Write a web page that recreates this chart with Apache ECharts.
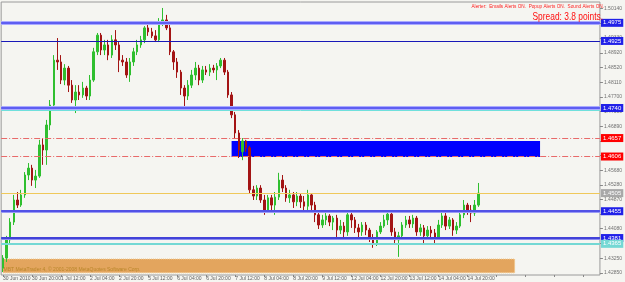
<!DOCTYPE html>
<html><head><meta charset="utf-8">
<script src="https://cdn.jsdelivr.net/npm/echarts@6/dist/echarts.min.js"></script>
<style>html,body{margin:0;padding:0;background:#f5f5f1}#c{width:625px;height:282px}</style>
</head><body><div id="c"></div>
<script>
// time labels (one every 8 bars)
const xLabels = ['30 Jun 2010','30 Jun 20:00','1 Jul 12:00','2 Jul 04:00','2 Jul 20:00','5 Jul 12:00','6 Jul 04:00','6 Jul 20:00','7 Jul 12:00','8 Jul 04:00','8 Jul 20:00','9 Jul 12:00','12 Jul 04:00','12 Jul 20:00','13 Jul 12:00','14 Jul 04:00','14 Jul 20:00'];
// price scale tick labels
const yTicks = [1.42850,1.43250,1.43660,1.44080,1.44480,1.44870,1.45280,1.45680,1.46090,1.46490,1.46890,1.47300,1.47700,1.48110,1.48520,1.48920,1.49330,1.49730,1.50140];

const opens = [1.4298,1.4326,1.4376,1.4425,1.4486,1.4472,1.4500,1.4555,1.4574,1.4541,
1.4552,1.4638,1.4624,1.4693,1.4748,1.4872,1.4867,1.4817,1.4850,1.4803,
1.4762,1.4784,1.4776,1.4795,1.4773,1.4817,1.4895,1.4941,1.4900,1.4914,
1.4886,1.4928,1.4914,1.4872,1.4867,1.4831,1.4867,1.4895,1.4914,1.4928,
1.4961,1.4950,1.4939,1.4928,1.4977,1.4983,1.4961,1.4895,1.4867,1.4839,
1.4795,1.4773,1.4803,1.4831,1.4850,1.4817,1.4845,1.4839,1.4850,1.4845,
1.4856,1.4872,1.4839,1.4776,1.4721,1.4671,1.4619,1.4649,1.4630,1.4514,
1.4497,1.4519,1.4486,1.4458,1.4492,1.4472,1.4494,1.4541,1.4519,1.4492,
1.4500,1.4481,1.4497,1.4481,1.4469,1.4500,1.4472,1.4445,1.4417,1.4431,
1.4442,1.4425,1.4436,1.4403,1.4414,1.4398,1.4445,1.4431,1.4409,1.4398,
1.4417,1.4403,1.4381,1.4367,1.4398,1.4414,1.4431,1.4447,1.4398,1.4376,
1.4387,1.4417,1.4431,1.4420,1.4436,1.4398,1.4409,1.4387,1.4403,1.4395,
1.4381,1.4417,1.4442,1.4414,1.4431,1.4403,1.4414,1.4445,1.4472,1.4458,
1.4450,1.4472];
const closes = [1.4326,1.4376,1.4425,1.4486,1.4472,1.4500,1.4555,1.4574,1.4541,1.4552,
1.4638,1.4624,1.4693,1.4748,1.4872,1.4867,1.4817,1.4850,1.4803,1.4762,
1.4784,1.4776,1.4795,1.4773,1.4817,1.4895,1.4941,1.4900,1.4914,1.4886,
1.4928,1.4914,1.4872,1.4867,1.4831,1.4867,1.4895,1.4914,1.4928,1.4961,
1.4950,1.4939,1.4928,1.4977,1.4983,1.4961,1.4895,1.4867,1.4839,1.4795,
1.4773,1.4803,1.4831,1.4850,1.4817,1.4845,1.4839,1.4850,1.4845,1.4856,
1.4872,1.4839,1.4776,1.4721,1.4671,1.4624,1.4649,1.4630,1.4514,1.4497,
1.4519,1.4486,1.4458,1.4492,1.4472,1.4494,1.4541,1.4519,1.4492,1.4500,
1.4481,1.4497,1.4481,1.4469,1.4500,1.4472,1.4445,1.4417,1.4431,1.4442,
1.4425,1.4436,1.4403,1.4414,1.4398,1.4445,1.4431,1.4409,1.4398,1.4417,
1.4403,1.4381,1.4367,1.4398,1.4414,1.4431,1.4447,1.4398,1.4376,1.4387,
1.4417,1.4431,1.4420,1.4436,1.4398,1.4409,1.4387,1.4403,1.4395,1.4381,
1.4417,1.4442,1.4414,1.4431,1.4403,1.4414,1.4445,1.4472,1.4458,1.4450,
1.4472,1.4505];
const lows = [1.4287,1.4315,1.4365,1.4417,1.4464,1.4467,1.4492,1.4541,1.4525,1.4519,
1.4547,1.4583,1.4583,1.4679,1.4740,1.4845,1.4806,1.4803,1.4784,1.4754,
1.4726,1.4762,1.4768,1.4762,1.4762,1.4812,1.4886,1.4886,1.4886,1.4872,
1.4878,1.4900,1.4839,1.4856,1.4823,1.4812,1.4856,1.4886,1.4906,1.4919,
1.4939,1.4933,1.4922,1.4922,1.4966,1.4955,1.4886,1.4845,1.4823,1.4776,
1.4737,1.4762,1.4795,1.4817,1.4803,1.4809,1.4831,1.4828,1.4837,1.4817,
1.4850,1.4831,1.4768,1.4712,1.4657,1.4602,1.4596,1.4619,1.4505,1.4486,
1.4486,1.4478,1.4445,1.4450,1.4453,1.4445,1.4486,1.4508,1.4481,1.4478,
1.4464,1.4469,1.4464,1.4453,1.4458,1.4458,1.4425,1.4406,1.4409,1.4417,
1.4414,1.4403,1.4384,1.4392,1.4381,1.4387,1.4409,1.4395,1.4376,1.4387,
1.4389,1.4370,1.4354,1.4359,1.4392,1.4409,1.4417,1.4387,1.4362,1.4329,
1.4381,1.4409,1.4409,1.4409,1.4387,1.4387,1.4362,1.4381,1.4381,1.4367,
1.4376,1.4409,1.4403,1.4406,1.4387,1.4392,1.4409,1.4436,1.4445,1.4425,
1.4442,1.4467];
const highs = [1.4334,1.4387,1.4436,1.4500,1.4508,1.4514,1.4563,1.4588,1.4583,1.4569,
1.4652,1.4657,1.4707,1.4762,1.4886,1.4933,1.4886,1.4861,1.4856,1.4817,
1.4803,1.4803,1.4812,1.4801,1.4831,1.4906,1.4947,1.4947,1.4928,1.4928,
1.4941,1.4955,1.4922,1.4886,1.4878,1.4878,1.4906,1.4928,1.4939,1.4966,
1.4969,1.4961,1.4955,1.4988,1.5016,1.4997,1.4969,1.4900,1.4878,1.4845,
1.4803,1.4817,1.4845,1.4867,1.4859,1.4856,1.4856,1.4861,1.4859,1.4864,
1.4878,1.4878,1.4845,1.4784,1.4729,1.4679,1.4657,1.4652,1.4635,1.4525,
1.4527,1.4527,1.4500,1.4500,1.4500,1.4508,1.4561,1.4555,1.4527,1.4514,
1.4508,1.4508,1.4503,1.4497,1.4514,1.4505,1.4481,1.4453,1.4445,1.4450,
1.4447,1.4442,1.4445,1.4431,1.4425,1.4453,1.4453,1.4439,1.4420,1.4425,
1.4425,1.4409,1.4392,1.4403,1.4425,1.4445,1.4458,1.4453,1.4409,1.4398,
1.4425,1.4442,1.4442,1.4445,1.4442,1.4420,1.4417,1.4414,1.4414,1.4406,
1.4431,1.4453,1.4450,1.4439,1.4436,1.4425,1.4453,1.4486,1.4478,1.4472,
1.4486,1.4533];

// horizontal price levels
const levelTop = 1.4975, levelNavy = 1.4925, levelMid = 1.4740, levelMidCyan = 1.4733;
const redUpper = 1.4657, redLower = 1.4606, bidPrice = 1.4505;
const levelLow1 = 1.4455, levelLow2 = 1.4381, levelCyan = 1.4365;
// zones
const zoneTop = 1.4649, zoneBottom = 1.4605, zoneStart = 63, zoneEnd = 148;
const bandTop = 1.4323, bandBottom = 1.4285, bandStart = 0, bandEnd = 141;

const N = 165;
const slots = Array.from({length: N}, (_, i) => String(i));
const candles = opens.map((o, i) => [o, closes[i], lows[i], highs[i]]);

const FONT = '"Liberation Sans", Arial, sans-serif';
function lbl(bg, fg) {
  return {show: true, position: 'end', distance: 1, formatter: p => Number(p.value).toFixed(4),
    backgroundColor: bg, color: fg || '#ffffff', fontSize: 6, fontFamily: FONT,
    padding: [1, 2, 0, 2], lineHeight: 7};
}
const off = {show: false};

const chart = echarts.init(document.getElementById('c'));
chart.setOption({
  animation: false,
  backgroundColor: '#f5f5f1',
  grid: {left: 1, right: 18, top: 2, bottom: 7, show: true, borderColor: '#9a9a9a', borderWidth: 1, backgroundColor: 'transparent'},
  xAxis: {
    type: 'category', data: slots, boundaryGap: true,
    axisLine: {show: false},
    axisTick: {show: true, length: 2, alignWithLabel: true, interval: (i) => i % 8 === 0, lineStyle: {color: '#888'}},
    axisLabel: {interval: 0, margin: 1, fontSize: 5, lineHeight: 6, color: '#606060', fontFamily: FONT, align: 'left',
      formatter: (v, i) => (i % 8 === 0 && xLabels[i / 8]) ? xLabels[i / 8] : ''},
    splitLine: {show: false}
  },
  yAxis: {
    type: 'value', position: 'right', min: 1.4279, max: 1.50325, scale: true,
    axisLine: {show: false},
    splitLine: {show: false},
    axisTick: {show: true, length: 3, customValues: yTicks, lineStyle: {color: '#888'}},
    axisLabel: {show: true, customValues: yTicks, margin: 4, fontSize: 5, color: '#707070', fontFamily: FONT,
      formatter: v => v.toFixed(5)}
  },
  graphic: [
    {type: 'text', x: 604, y: 6, scaleX: 0.85, z: 100,
      style: {text: 'Alerter:  Emails Alerts ON.  Popup Alerts ON.  Sound Alerts ON.', fill: '#ff2020',
        font: '5.5px ' + FONT, textAlign: 'right', textVerticalAlign: 'middle'}},
    {type: 'text', x: 603, y: 17, scaleX: 0.8, z: 100,
      style: {text: 'Spread: 3.8 points.', fill: '#ff1010', font: '10.5px ' + FONT, textAlign: 'right', textVerticalAlign: 'middle'}}
  ],
  series: [{
    type: 'candlestick',
    data: candles,
    barWidth: 2,
    itemStyle: {color: '#2fbf2f', color0: '#a31414', borderColor: '#2fbf2f', borderColor0: '#a31414', borderWidth: 1},
    markArea: {
      silent: true,
      data: [
        [{xAxis: zoneStart, yAxis: zoneTop, itemStyle: {color: '#0000ff', opacity: 1}}, {xAxis: zoneEnd, yAxis: zoneBottom}],
        [{xAxis: bandStart, yAxis: bandTop, itemStyle: {color: '#e3a55e', opacity: 1, borderColor: '#f2c98a', borderWidth: 1, borderType: 'dotted'},
          label: {show: true, position: 'insideBottomLeft', distance: 1, formatter: 'MBT MetaTrader 4, © 2001-2008 MetaQuotes Software Corp.',
            color: '#b8862a', fontSize: 5, fontFamily: FONT}},
         {xAxis: bandEnd, yAxis: bandBottom}]
      ]
    },
    markLine: {
      silent: true, symbol: ['none', 'none'], animation: false, precision: 5,
      data: [
        {yAxis: levelTop, lineStyle: {color: '#aaaaff', width: 4, type: 'solid'}, label: off},
        {yAxis: levelTop, lineStyle: {color: '#4444ee', width: 1.5, type: 'solid'}, label: lbl('#2020e8')},
        {yAxis: levelNavy, lineStyle: {color: '#1818b8', width: 1.2, type: 'solid'}, label: lbl('#2020e8')},
        {yAxis: levelMidCyan, lineStyle: {color: '#6fe0dc', width: 1, type: 'solid'}, label: off},
        {yAxis: levelMid, lineStyle: {color: '#aaaaff', width: 4, type: 'solid'}, label: off},
        {yAxis: levelMid, lineStyle: {color: '#4444ee', width: 1.5, type: 'solid'}, label: lbl('#2020e8')},
        {yAxis: redUpper, lineStyle: {color: '#e86a6a', width: 1, type: [6, 2, 1, 2]}, label: lbl('#ff0000')},
        {yAxis: redLower, lineStyle: {color: '#e86a6a', width: 1, type: [6, 2, 1, 2]}, label: lbl('#ff0000')},
        {yAxis: bidPrice, lineStyle: {color: '#efc85a', width: 1, type: 'solid'}, label: lbl('#a8a8a8', '#ffffff')},
        {yAxis: levelLow1, lineStyle: {color: '#9a9af5', width: 3, type: 'solid'}, label: off},
        {yAxis: levelLow1, lineStyle: {color: '#3a3ae0', width: 1.5, type: 'solid'}, label: lbl('#2020e8')},
        {yAxis: levelLow2, lineStyle: {color: '#8a8af0', width: 3, type: 'solid'}, label: off},
        {yAxis: levelLow2, lineStyle: {color: '#2a2ad0', width: 1.5, type: 'solid'}, label: lbl('#2020e8')},
        {yAxis: levelCyan, lineStyle: {color: '#74d8d4', width: 2, type: 'solid'}, label: lbl('#74d8d4')}
      ]
    }
  }]
});
</script>
</body></html>
